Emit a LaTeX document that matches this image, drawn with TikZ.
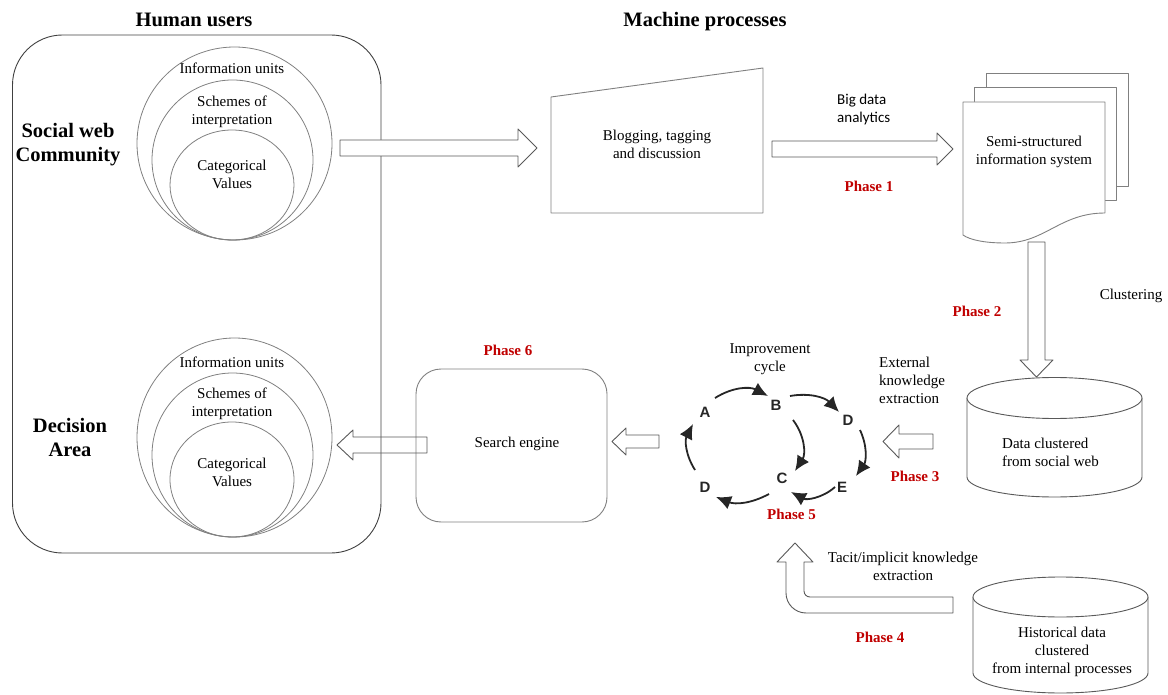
\documentclass[tikz,border=0pt]{standalone}
\usepackage{fontspec}
\setmainfont{Liberation Serif}
\newfontfamily\calibfont{Carlito}
\newfontfamily\arialfont{Liberation Sans}
\usetikzlibrary{arrows.meta}
\definecolor{linegray}{gray}{0.35}
\definecolor{ringgray}{gray}{0.5}
\definecolor{phasered}{HTML}{C00000}
\begin{document}
\begin{tikzpicture}[x=1pt,y=-1pt,line join=round,
  txt/.style={font=\fontsize{15}{18}\selectfont, align=center, inner sep=0pt},
  sanstxt/.style={font=\calibfont\fontsize{15}{17.5}\selectfont, align=left, inner sep=0pt},
  ttl/.style={font=\fontsize{20.5}{24}\selectfont\bfseries, align=center, inner sep=0pt},
  phase/.style={font=\fontsize{15}{18}\selectfont\bfseries, text=phasered, inner sep=0pt},
  ring/.style={draw=ringgray, line width=0.8pt},
  blk/.style={draw=linegray, line width=0.9pt, fill=white},
  letter/.style={font=\arialfont\fontsize{15}{15}\selectfont\bfseries, text=black!85, inner sep=0pt},
  cyc/.style={line width=1.8pt, draw=black!85, -{Latex[length=15pt,width=14pt]}}]
\useasboundingbox (0,0) rectangle (1168,695);

% titles
\node[ttl] (hu) at (194,20) {Human users};
\node[ttl] (mp) at (705,22) {Machine processes};

% human users frame
\draw[draw=black!75, line width=0.9pt, rounded corners=50pt] (12.5,35) rectangle (381,553);

% top rings
\draw[ring] (234.5,143.5) ellipse [x radius=97.5pt, y radius=96.5pt];
\draw[ring] (232.5,160) ellipse [x radius=80.5pt, y radius=80pt];
\draw[ring] (232,185) ellipse [x radius=62pt, y radius=55pt];
\node[txt] (iu1) at (232,68) {Information units};
\node[txt] (si1) at (232,112) {Schemes of\\interpretation};
\node[txt] (cv1) at (232,174) {Categorical\\Values};
\node[ttl] (sw) at (68,145) {Social web\\Community};

% bottom rings
\draw[ring] (234.5,437.5) ellipse [x radius=97.5pt, y radius=99.5pt];
\draw[ring] (232.5,455) ellipse [x radius=80.5pt, y radius=82pt];
\draw[ring] (232,479.5) ellipse [x radius=62pt, y radius=57.5pt];
\node[txt] (iu2) at (232,362) {Information units};
\node[txt] (si2) at (232,403.5) {Schemes of\\interpretation};
\node[txt] (cv2) at (232,472.5) {Categorical\\Values};
\node[ttl] (da) at (70,437) {Decision\\Area};

% arrow community -> blogging
\draw[blk] (340,140) -- (518,140) -- (518,129) -- (537,148) -- (518,167) -- (518,156) -- (340,156) -- cycle;

% blogging trapezoid
\draw[blk, draw=ringgray] (551,97) -- (763,68) -- (763,213) -- (551,213) -- cycle;
\node[txt] (blog) at (657,144) {Blogging, tagging\\and discussion};

% arrow blogging -> documents
\draw[blk] (772,141) -- (937,141) -- (937,133) -- (953,149) -- (937,165) -- (937,157) -- (772,157) -- cycle;
\node[sanstxt, anchor=west] (bda) at (837,109.5) {Big data\\analytics};
\node[phase] (p1) at (869,186) {Phase 1};

% multi-document
\draw[blk, draw=ringgray] (986,73) rectangle (1128,186);
\draw[blk, draw=ringgray] (974,87) rectangle (1116,200);
\draw[blk, draw=ringgray] (963,102) -- (1105,102) -- (1105,213)
  .. controls (1060,213) and (1045,243) .. (1005,243)
  .. controls (985,243) and (970,240) .. (963,235) -- cycle;
\node[txt] (semi) at (1034,152) {Semi-structured\\information system};

% arrow down (phase 2)
\draw[blk] (1028,242) -- (1045,242) -- (1045,360) -- (1053,360) -- (1036.5,377) -- (1020,360) -- (1028,360) -- cycle;
\node[phase] (p2) at (977,311) {Phase 2};
\node[txt] (clu) at (1131,296) {Clustering};

% cylinder 1
\draw[blk, draw=linegray] (967,398) -- (967,477)
  .. controls (967,488) and (1006,497) .. (1054.5,497)
  .. controls (1103,497) and (1142,488) .. (1142,477) -- (1142,398);
\draw[blk, draw=linegray] (1054.5,398) ellipse [x radius=87.5pt, y radius=20.5pt];
\node[txt, align=left, anchor=west] (dc) at (1002,452.5) {Data clustered\\from social web};

% arrow phase 3
\draw[blk] (933,434) -- (933,449) -- (899,449) -- (899,458) -- (883,441.5) -- (899,425) -- (899,434) -- cycle;
\node[txt, align=left, anchor=west] (ext) at (879,380.5) {External\\knowledge\\extraction};
\node[phase] (p3) at (915,476) {Phase 3};

% improvement cycle
\node[txt] (ic) at (770,359.5) {Improvement\\cycle};
\node[letter] (A) at (705,412) {A};
\node[letter] (B) at (776,405) {B};
\node[letter] (D1) at (848,420) {D};
\node[letter] (C) at (782,478) {C};
\node[letter] (D2) at (705,487) {D};
\node[letter] (E) at (842,487) {E};
\draw[cyc] ([shift={(10,-14)}]A.center) to[bend left=30] ([shift={(-8,-9)}]B.center);
\draw[cyc] ([shift={(14,-9)}]B.center) to[bend left=28] ([shift={(-9,-8)}]D1.center);
\draw[cyc] ([shift={(17,15)}]B.center) to[bend left=35] ([shift={(13,-7)}]C.center);
\draw[cyc] ([shift={(12,10)}]D1.center) to[bend left=30] ([shift={(14,-11)}]E.center);
\draw[cyc] ([shift={(-7,0)}]E.center) to[bend left=35] ([shift={(9,14)}]C.center);
\draw[cyc] ([shift={(-13,16)}]C.center) to[bend left=25] ([shift={(11,10)}]D2.center);
\draw[cyc] ([shift={(-10,-17)}]D2.center) to[bend left=30] ([shift={(-12,12)}]A.center);
\node[phase] (p5) at (791.5,514) {Phase 5};

% arrow cycle -> search engine
\draw[blk] (659,435) -- (659,448) -- (626,448) -- (626,455) -- (612,441.5) -- (626,428) -- (626,435) -- cycle;

% search engine
\draw[blk, draw=ringgray, rounded corners=25pt] (416,369) rectangle (607,522);
\node[txt] (se) at (517,444) {Search engine};
\node[phase] (p6) at (508,350) {Phase 6};

% arrow search engine -> decision area
\draw[draw=linegray, line width=0.9pt] (427,437) -- (427,453) -- (353,453) -- (353,460) -- (337,445) -- (353,430) -- (353,437) -- cycle;

% U-turn arrow phase 4
\draw[blk] (953,597) -- (810,597) .. controls (806.7,597) and (804,594.3) .. (804,591)
  -- (804,562) -- (813,562) -- (795,543) -- (777,562) -- (786,562) -- (786,593)
  .. controls (786,604) and (795,613) .. (806,613) -- (953,613) -- cycle;
\node[txt] (tacit) at (903,566.5) {Tacit/implicit knowledge\\extraction};
\node[phase] (p4) at (880,637) {Phase 4};

% cylinder 2
\draw[blk, draw=linegray] (973,597) -- (973,673)
  .. controls (973,684) and (1012,693) .. (1060.5,693)
  .. controls (1109,693) and (1148,684) .. (1148,673) -- (1148,597);
\draw[blk, draw=linegray] (1060.5,597) ellipse [x radius=87.5pt, y radius=20pt];
\node[txt] (hist) at (1062,652) {Historical data\\clustered\\from internal processes};
\end{tikzpicture}
\end{document}
